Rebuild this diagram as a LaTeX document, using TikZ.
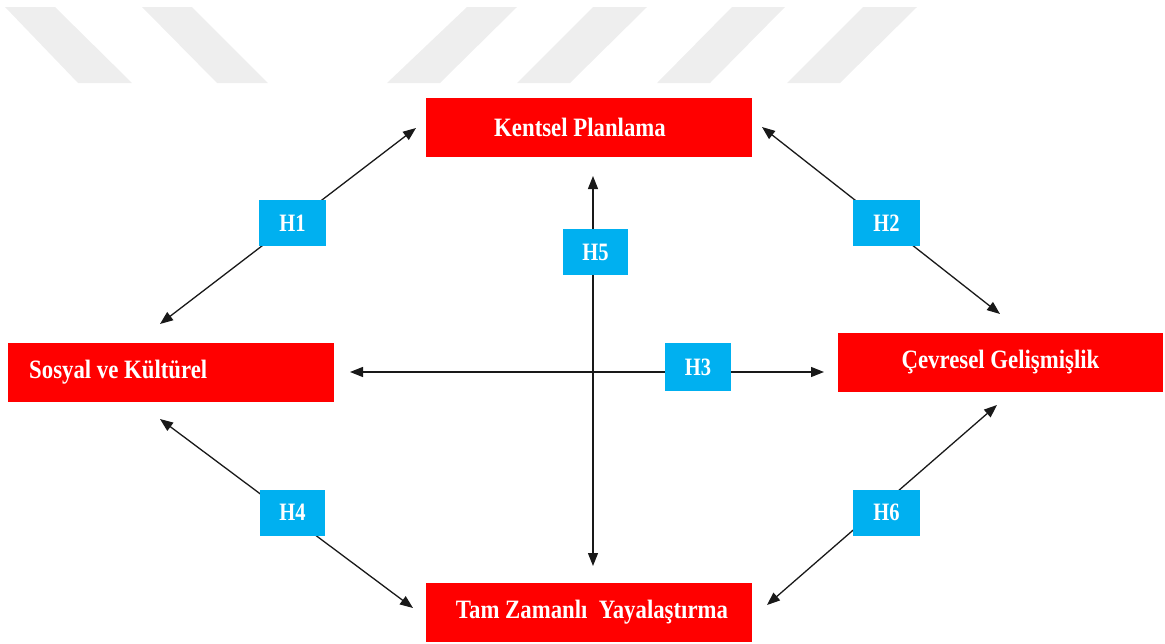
\documentclass[tikz,border=0pt]{standalone}
\usepackage{fontspec}
\setmainfont{Liberation Serif}
\usetikzlibrary{arrows.meta}
\definecolor{boxred}{HTML}{FF0000}
\definecolor{hblue}{HTML}{00B0F0}
\definecolor{bandgray}{HTML}{EEEEEE}
\newcommand{\mainlbl}[1]{\scalebox{0.86}[1]{\fontsize{26.5}{30}\selectfont\bfseries #1}}
\newcommand{\hlbl}[1]{\scalebox{0.82}[1]{\fontsize{25}{28}\selectfont\bfseries #1}}
\begin{document}
\begin{tikzpicture}[x=1pt,y=-1pt,
  factor/.style={fill=boxred, draw=none, minimum width=326pt, minimum height=59pt, inner sep=0pt, text=white},
  hyp/.style={fill=hblue, draw=none, minimum width=67pt, minimum height=46pt, inner sep=0pt, text=white},
  link/.style={line width=1.3pt, draw=black!90, {Triangle[length=13pt,width=10pt]}-{Triangle[length=13pt,width=10pt]}},
  band/.style={fill=bandgray, draw=none}]
\useasboundingbox (0,0) rectangle (1165,643);

% diagonal bands along the top edge
\fill[band] (5,7) -- (55,7) -- (132,83) -- (78,83) -- cycle;
\fill[band] (142,7) -- (192,7) -- (268,83) -- (217,83) -- cycle;
\fill[band] (467,7) -- (517,7) -- (440,83) -- (387,83) -- cycle;
\fill[band] (593,7) -- (647,7) -- (570,83) -- (517,83) -- cycle;
\fill[band] (732,7) -- (785,7) -- (710,83) -- (657,83) -- cycle;
\fill[band] (863,7) -- (917,7) -- (840,83) -- (787,83) -- cycle;

% factor boxes
\node[factor] (kp) at (589,127.5) {};
\node[text=white, inner sep=0pt] (kptext) at (580,127.5) {\mainlbl{Kentsel Planlama}};
\node[factor] (sk) at (171,372) {};
\node[anchor=west, text=white, inner sep=0pt] (sktext) at (29,372) {\mainlbl{Sosyal ve Kültürel}};
\node[factor, minimum width=325pt] (cg) at (1000.5,362) {\mainlbl{Çevresel Gelişmişlik}};
\node[factor] (ty) at (589,612.5) {};
\node[text=white, inner sep=0pt] (tytext) at (592,612.5) {\mainlbl{Tam Zamanlı~ Yayalaştırma}};

% arrow end points
\coordinate (a1) at (160,324);  \coordinate (b1) at (416,128);
\coordinate (a2) at (762,127);  \coordinate (b2) at (1000,314);
\coordinate (a3) at (350,372);  \coordinate (b3) at (824,372);
\coordinate (a4) at (160,419);  \coordinate (b4) at (413,608);
\coordinate (a5) at (593,176);  \coordinate (b5) at (593,566);
\coordinate (a6) at (997,405);  \coordinate (b6) at (767,605);

\draw[link] (a1) -- (b1);
\draw[link] (a2) -- (b2);
\draw[link] (a3) -- (b3);
\draw[link] (a4) -- (b4);
\draw[link] (a5) -- (b5);
\draw[link] (a6) -- (b6);

% hypothesis labels
\node[hyp] (h1) at (292.5,223) {\hlbl{H1}};
\node[hyp] (h2) at (886.5,223) {\hlbl{H2}};
\node[hyp, minimum width=66pt, minimum height=48pt] (h3) at (698,367) {\hlbl{H3}};
\node[hyp, minimum width=65pt] (h4) at (292.5,512.5) {\hlbl{H4}};
\node[hyp, minimum width=65pt] (h5) at (595.5,252) {\hlbl{H5}};
\node[hyp] (h6) at (886.5,512.5) {\hlbl{H6}};
\end{tikzpicture}
\end{document}
